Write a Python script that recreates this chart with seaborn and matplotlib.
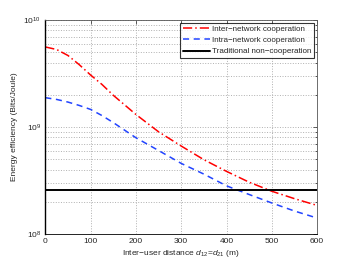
import numpy as np
import pandas as pd
import seaborn as sns
import matplotlib
matplotlib.use("Agg")
import matplotlib.pyplot as plt

# distance samples (m)
distance = [0, 25, 50, 75, 100, 125, 150, 200, 250, 300, 350, 400, 450, 500, 550, 600]

# energy efficiency (Bits/Joule)
inter_ee = [5.60e9, 5.30e9, 4.66e9, 3.82e9, 3.06e9, 2.50e9, 1.98e9, 1.31e9,
            9.02e8, 6.64e8, 4.95e8, 3.85e8, 3.05e8, 2.51e8, 2.14e8, 1.85e8]
intra_ee = [1.88e9, 1.81e9, 1.71e9, 1.59e9, 1.46e9, 1.28e9, 1.10e9, 7.94e8,
            6.03e8, 4.57e8, 3.63e8, 2.82e8, 2.34e8, 1.95e8, 1.64e8, 1.41e8]
trad_ee = [2.56e8] * len(distance)

labels = ["Inter\u2212network cooperation",
          "Intra\u2212network cooperation",
          "Traditional non\u2212cooperation"]

df = pd.DataFrame({
    "distance": distance * 3,
    "ee": inter_ee + intra_ee + trad_ee,
    "scheme": [labels[0]] * len(distance) + [labels[1]] * len(distance)
              + [labels[2]] * len(distance),
})

sns.set_style("white")
plt.rcParams['font.family'] = ['Liberation Sans', 'DejaVu Sans']
plt.rcParams['mathtext.fontset'] = 'custom'
plt.rcParams['mathtext.it'] = 'Liberation Sans:italic'
plt.rcParams['mathtext.rm'] = 'Liberation Sans'

fig = plt.figure(figsize=(3.5, 2.64), dpi=100)
ax = fig.add_axes([0.1295, 0.1136, 0.7765, 0.8106])

sns.lineplot(data=df, x="distance", y="ee", hue="scheme", style="scheme",
             palette=["red", "#2244ff", "black"],
             dashes=[(6, 2, 1, 2), (4, 3), ""],
             linewidth=1.1, ax=ax)
ax.get_lines()[2].set_linewidth(1.4)

ax.set_yscale("log")
ax.set_xlim(0, 600)
ax.set_ylim(1e8, 1e10)
ax.set_xticks([0, 100, 200, 300, 400, 500, 600])

ax.grid(True, which="major", linestyle=":", color="#b0b0b0", linewidth=0.7)
ax.grid(True, which="minor", axis="y", linestyle=":", color="#b0b0b0", linewidth=0.7)
ax.tick_params(which="both", direction="in", top=True, right=True,
               labelsize=6, length=3, width=0.5, pad=3)
ax.tick_params(which="minor", length=1.5)
for s in ax.spines.values():
    s.set_linewidth(0.6)
    s.set_color("#555555")
ax.spines["left"].set_linewidth(1.0)
ax.spines["left"].set_color("black")
ax.spines["bottom"].set_color("black")

ax.set_xlabel("Inter\u2212user distance $d_{12}$=$d_{21}$ (m)", fontsize=6, labelpad=2)
ax.set_ylabel("Energy efficiency (Bits/Joule)", fontsize=6, labelpad=4)

leg = ax.legend(loc="upper right", fontsize=5.8, frameon=True, fancybox=False,
                edgecolor="black", borderpad=0.3, labelspacing=0.45,
                handlelength=3.4, handletextpad=0.3, borderaxespad=0.35)
leg.get_frame().set_linewidth(0.8)
leg.get_lines()[2].set_linewidth(1.4)

fig.savefig("out.png", dpi=100)
